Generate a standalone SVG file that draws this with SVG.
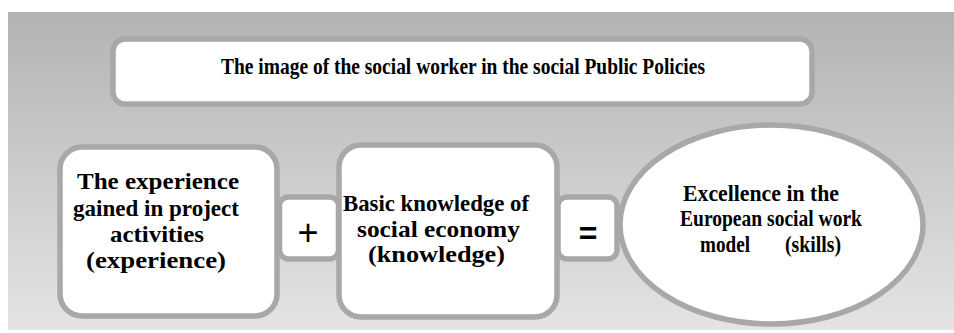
<svg xmlns="http://www.w3.org/2000/svg" width="954" height="333" viewBox="0 0 954 333">
<defs>
<linearGradient id="bg" x1="0" y1="0" x2="0" y2="1">
<stop offset="0" stop-color="#b3b3b3"/>
<stop offset="1" stop-color="#e4e4e4"/>
</linearGradient>
<style>
.box{fill:#ffffff;stroke:#a8a8a8;stroke-width:5.5}
.t{font-family:"Liberation Serif","Times New Roman",Times,serif;font-weight:bold;fill:#000;text-anchor:start}
.s{font-family:"Liberation Sans",Arial,sans-serif;fill:#000;text-anchor:middle}
</style>
</defs>
<rect x="0" y="0" width="954" height="333" fill="#ffffff"/>
<rect x="8" y="12" width="946" height="318" fill="url(#bg)"/>
<g id="title">
<rect class="box" x="113" y="39" width="699" height="65" rx="12"/>
<text class="t" x="221" y="74" font-size="23" textLength="484" lengthAdjust="spacingAndGlyphs">The image of the social worker in the social Public Policies</text>
</g>
<g id="connectors">
<g id="plus">
<rect class="box" x="279.5" y="197" width="59" height="62" rx="9"/>
<text class="s" x="308" y="245" font-size="36">+</text>
</g>
<g id="equals">
<rect class="box" x="558" y="197" width="59" height="62" rx="9"/>
<text class="s" x="588" y="244" font-size="32" font-weight="bold">=</text>
</g>
</g>
<g id="experience">
<rect class="box" x="60" y="147" width="217" height="169" rx="22"/>
<text class="t" x="77" y="189" font-size="24" textLength="162" lengthAdjust="spacingAndGlyphs">The experience</text>
<text class="t" x="73" y="216" font-size="24" textLength="166" lengthAdjust="spacingAndGlyphs">gained in project</text>
<text class="t" x="110" y="242" font-size="24" textLength="94" lengthAdjust="spacingAndGlyphs">activities</text>
<text class="t" x="86" y="268" font-size="24" textLength="140" lengthAdjust="spacingAndGlyphs">(experience)</text>
</g>
<g id="knowledge">
<rect class="box" x="339" y="145" width="218" height="172" rx="22"/>
<text class="t" x="343" y="211" font-size="24" textLength="186" lengthAdjust="spacingAndGlyphs">Basic knowledge of</text>
<text class="t" x="357" y="237" font-size="24" textLength="163" lengthAdjust="spacingAndGlyphs">social economy</text>
<text class="t" x="368" y="262" font-size="24" textLength="137" lengthAdjust="spacingAndGlyphs">(knowledge)</text>
</g>
<g id="skills">
<ellipse class="box" cx="771.5" cy="224.5" rx="151.5" ry="99.5" stroke-width="6"/>
<text class="t" x="683" y="201" font-size="23" textLength="156" lengthAdjust="spacingAndGlyphs">Excellence in the</text>
<text class="t" x="680" y="226" font-size="23" textLength="182" lengthAdjust="spacingAndGlyphs">European social work</text>
<text class="t" x="700" y="252" font-size="23" textLength="50" lengthAdjust="spacingAndGlyphs">model</text>
<text class="t" x="785" y="252" font-size="23" textLength="56" lengthAdjust="spacingAndGlyphs">(skills)</text>
</g>
</svg>
